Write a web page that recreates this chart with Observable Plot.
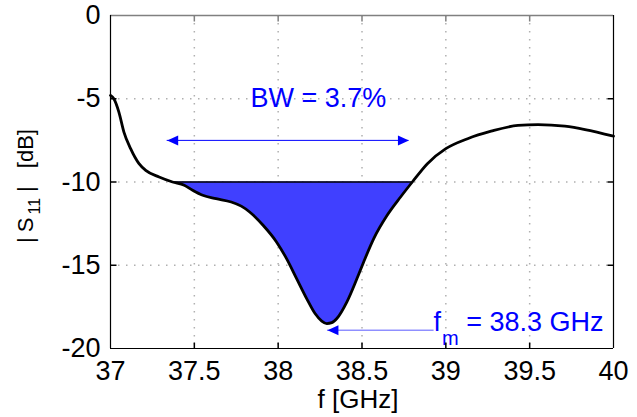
<!DOCTYPE html>
<html>
<head>
<meta charset="utf-8">
<script src="https://cdn.jsdelivr.net/npm/d3@7"></script>
<script src="https://cdn.jsdelivr.net/npm/@observablehq/plot@0.6"></script>
<style>
  body { margin: 0; background: #fff; }
  svg text { white-space: pre; }
</style>
</head>
<body>
<div id="chart"></div>
<script>
// ---- data ----
const freq = [37.00, 37.02, 37.05, 37.08, 37.12, 37.17, 37.21, 37.29, 37.37, 37.44,
              37.49, 37.55, 37.63, 37.72, 37.78, 37.83, 37.91, 37.99, 38.05, 38.11,
              38.17, 38.22, 38.26, 38.29, 38.32, 38.35, 38.41, 38.47, 38.51, 38.57,
              38.65, 38.73, 38.80, 38.89, 39.00, 39.13, 39.27, 39.43, 39.55, 39.71,
              39.83, 40.00];
const s11 = [-4.8, -5.0, -5.8, -7.0, -8.0, -8.9, -9.3, -9.7, -10.0, -10.2,
             -10.5, -10.8, -11.0, -11.2, -11.45, -11.8, -12.6, -13.6, -14.6, -15.8,
             -17.0, -17.9, -18.35, -18.5, -18.45, -18.2, -17.2, -15.8, -14.8, -13.4,
             -12.0, -10.9, -10.0, -8.9, -8.0, -7.4, -6.95, -6.6, -6.55, -6.65,
             -6.85, -7.25];
const xTicks = [37, 37.5, 38, 38.5, 39, 39.5, 40];
const yTicks = [0, -5, -10, -15, -20];
const xGrid = [37.5, 38, 38.5, 39, 39.5];
const yGrid = [-5, -10, -15];
const threshold = -10;
const band = [37.37, 38.80];          // -10 dB crossings
const bwArrowX = [37.338, 38.78];
const bwArrowY = -7.5;
const bwLabel = "BW = 3.7%";
const bwLabelPos = [38.24, -5.0];
const fmArrowX = [38.294, 38.93];
const fmArrowY = -18.9;
const fmLabelPos = [38.93, -19.0];
const fmLabel = ["f", "m", " = 38.3 GHz"];
const xLabel = "f [GHz]";

// ---- build tables ----
const curve = freq.map((f, i) => ({f, s: s11[i]}));
const inBand = curve.filter(d => d.f >= band[0] - 1e-9 && d.f <= band[1] + 1e-9);

const blue = "#0000ff";
const fillBlue = "#4040ff";
const font = "'Liberation Sans', Arial, sans-serif";

const sym = (fn) => ({draw(ctx) { fn(ctx); }});
const tickUp = sym(c => { c.moveTo(0, 0); c.lineTo(0, -6); });
const tickDown = sym(c => { c.moveTo(0, 0); c.lineTo(0, 6); });
const tickLeft = sym(c => { c.moveTo(0, 0); c.lineTo(-6, 0); });
const tickRight = sym(c => { c.moveTo(0, 0); c.lineTo(6, 0); });
const headLeft = sym(c => { c.moveTo(0, 0); c.lineTo(11, -5); c.lineTo(11, 5); c.closePath(); });
const headRight = sym(c => { c.moveTo(0, 0); c.lineTo(-11, -5); c.lineTo(-11, 5); c.closePath(); });

const plot = Plot.plot({
  width: 637,
  height: 417,
  marginLeft: 110,
  marginRight: 24,
  marginTop: 15,
  marginBottom: 69,
  style: {fontFamily: font, fontSize: "27px", background: "white", color: "black"},
  x: {domain: [37, 40]},
  y: {domain: [-20, 0]},
  marks: [
    Plot.ruleX(xGrid, {stroke: "#b0b0b0", strokeWidth: 1.5, strokeDasharray: "1.5,6.5"}),
    Plot.ruleY(yGrid, {stroke: "#b0b0b0", strokeWidth: 1.5, strokeDasharray: "1.5,6.5"}),
    Plot.areaY(inBand, {x: "f", y1: threshold, y2: "s", fill: fillBlue, curve: "monotone-x"}),
    Plot.ruleY([threshold], {x1: band[0], x2: band[1], stroke: "black", strokeWidth: 1.5}),
    Plot.line(curve, {x: "f", y: "s", stroke: "black", strokeWidth: 2.8, curve: "monotone-x"}),
    // frame
    Plot.ruleY([0], {stroke: "#808080", strokeWidth: 1.5}),
    Plot.ruleY([-20], {stroke: "black", strokeWidth: 1.2}),
    Plot.ruleX([37, 40], {stroke: "black", strokeWidth: 1.2}),
    // inward ticks
    Plot.dot(xGrid, {x: d => d, y: -20, symbol: tickUp, stroke: "black", fill: "none"}),
    Plot.dot(xGrid, {x: d => d, y: 0, symbol: tickDown, stroke: "#808080", fill: "none"}),
    Plot.dot(yGrid, {x: 37, y: d => d, symbol: tickRight, stroke: "black", fill: "none"}),
    Plot.dot(yGrid, {x: 40, y: d => d, symbol: tickLeft, stroke: "black", fill: "none"}),
    // BW arrow
    Plot.ruleY([bwArrowY], {x1: bwArrowX[0], x2: bwArrowX[1], stroke: blue, strokeWidth: 1}),
    Plot.dot([bwArrowX[0]], {x: d => d, y: bwArrowY, symbol: headLeft, fill: blue, stroke: "none"}),
    Plot.dot([bwArrowX[1]], {x: d => d, y: bwArrowY, symbol: headRight, fill: blue, stroke: "none"}),
    Plot.text([bwLabel], {x: bwLabelPos[0], y: bwLabelPos[1], text: d => d, fill: blue, fontSize: 27}),
    // fm arrow
    Plot.ruleY([fmArrowY], {x1: fmArrowX[0], x2: fmArrowX[1], stroke: blue, strokeWidth: 1, strokeOpacity: 0.65}),
    Plot.dot([fmArrowX[0]], {x: d => d, y: fmArrowY, symbol: headLeft, fill: blue, stroke: "none"}),
    // axes
    Plot.axisX({ticks: xTicks, tickSize: 0, tickPadding: 12, fontSize: 27, tickFormat: d => String(d), label: null}),
    Plot.axisY({ticks: yTicks, tickSize: 0, tickPadding: 10, fontSize: 27, tickFormat: d => String(d), label: null})
  ]
});

document.getElementById("chart").appendChild(plot);

// ---- labels with subscripts ----
const sx = plot.scale("x"), sy = plot.scale("y");
const svg = d3.select(plot);

const fm = svg.append("text")
  .attr("x", sx.apply(fmLabelPos[0]))
  .attr("y", sy.apply(fmLabelPos[1]))
  .attr("text-anchor", "start")
  .attr("fill", blue)
  .attr("font-family", font)
  .attr("font-size", 27);
fm.append("tspan").text(fmLabel[0]);
fm.append("tspan").attr("font-size", 20).attr("dx", 1).attr("dy", 14).text(fmLabel[1]);
fm.append("tspan").attr("dy", -14).text(fmLabel[2]);

svg.append("text")
  .attr("x", 358)
  .attr("y", 408)
  .attr("text-anchor", "middle")
  .attr("font-family", font)
  .attr("font-size", 26)
  .attr("fill", "black")
  .text(xLabel);

const yl = svg.append("text")
  .attr("transform", "translate(33,186) rotate(-90)")
  .attr("text-anchor", "middle")
  .attr("font-family", font)
  .attr("font-size", 22)
  .attr("fill", "black");
yl.append("tspan").text("|");
yl.append("tspan").attr("dx", 5).text("S");
yl.append("tspan").attr("font-size", 16).attr("dx", 3).attr("dy", 7).text("11");
yl.append("tspan").attr("dx", 6).attr("dy", -7).text("|");
yl.append("tspan").attr("dx", 12).text(" [dB]");
</script>
</body>
</html>
